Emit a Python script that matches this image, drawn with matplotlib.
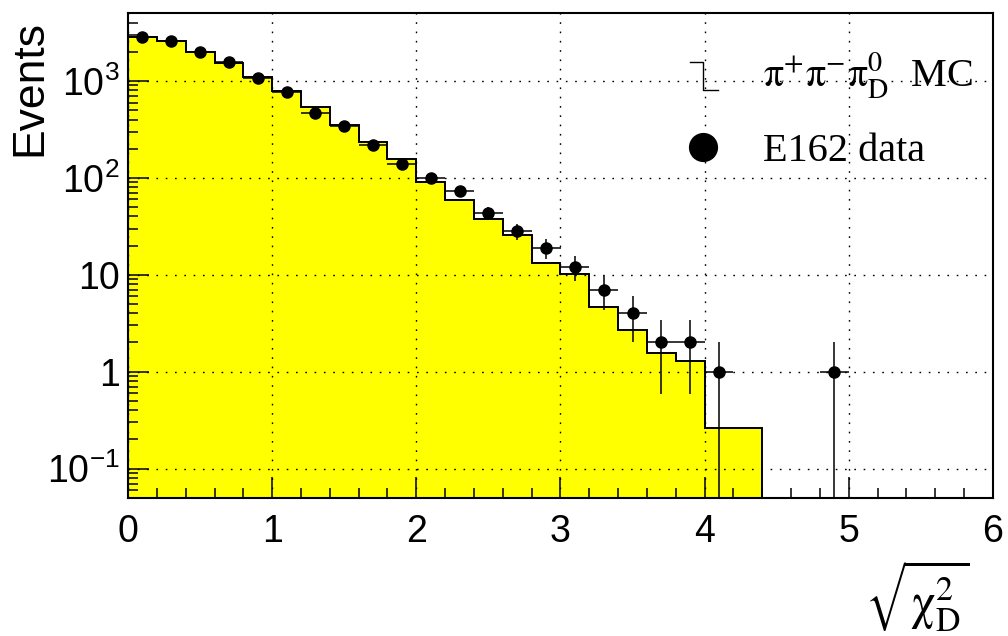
import numpy as np
import matplotlib
matplotlib.use('Agg')
import matplotlib.pyplot as plt
from matplotlib.lines import Line2D
from matplotlib.ticker import MultipleLocator, LogLocator, NullFormatter

plt.rcParams['font.family'] = ['Liberation Sans', 'DejaVu Sans']
plt.rcParams['mathtext.fontset'] = 'stix'

# MC histogram, 0.2 wide bins from 0 to 4.4
mc_edges = np.linspace(0, 4.4, 23)
mc_counts = [2860, 2600, 2005, 1545, 1092, 794, 543, 352, 237, 156, 90,
             59, 38, 25.8, 13.2, 10.2, 4.7, 2.67, 1.56, 1.30, 0.26, 0.26]

# E162 data, 0.2 wide bins from 0 to 5
data_edges = np.linspace(0, 5, 26)
data_counts = [2820, 2600, 2000, 1560, 1080, 775, 470, 345, 220, 140, 100,
               74, 43, 28, 19, 12, 7, 4, 2, 2, 1, 0, 0, 0, 1]

y_ticks = [0.1, 1, 10, 100, 1000]
y_labels = [r'$\mathregular{10^{-1}}$', '1', '10',
            r'$\mathregular{10^{2}}$', r'$\mathregular{10^{3}}$']

fig = plt.figure(figsize=(10.08, 6.36), dpi=100)
ax = fig.add_axes([128/1008, 1-497.7/636, (993-128)/1008, (497.7-13.3)/636])

ax.stairs(mc_counts, mc_edges, baseline=1e-4, fill=True, color='#ffff00', zorder=1)
ax.stairs(mc_counts, mc_edges, baseline=1e-4, color='black', linewidth=1.4, zorder=1.2)

centers = (data_edges[:-1] + data_edges[1:]) / 2
counts = np.array(data_counts, dtype=float)
keep = counts > 0
ax.errorbar(centers[keep], counts[keep], yerr=np.sqrt(counts[keep]), xerr=0.1,
            fmt='o', color='black', ms=8, elinewidth=1.1, capsize=0, zorder=3)

ax.set_yscale('log')
ax.set_xlim(0, 6)
ax.set_ylim(0.05, 5000)
ax.xaxis.set_major_locator(MultipleLocator(1))
ax.xaxis.set_minor_locator(MultipleLocator(0.2))
ax.set_yticks(y_ticks, labels=y_labels)
ax.yaxis.set_minor_locator(LogLocator(base=10, subs=np.arange(2, 10)))
ax.yaxis.set_minor_formatter(NullFormatter())

ax.tick_params(which='both', direction='in', top=False, right=False, width=1.1)
ax.tick_params(which='major', length=15, labelsize=27)
ax.tick_params(which='minor', length=7.5)
ax.tick_params(axis='x', pad=12)
ax.tick_params(axis='y', pad=6)
for s in ax.spines.values():
    s.set_linewidth(1.5)

ax.set_axisbelow(False)
ax.grid(True, which='major', color='black', linestyle=(0, (1.2, 5.5)), linewidth=1)

fig.text(30/1008, 1-20/636, 'Events', rotation=90, ha='center', va='top', fontsize=32)
fig.text(970/1008, 2/636, r'$\sqrt{\mathrm{\chi}^{2}_{\mathrm{D}}}$', ha='right', va='bottom', fontsize=35)

# legend
def fx(px):
    return px / 1008

def fy(py):
    return 1 - py / 636

fig.add_artist(Line2D([fx(690), fx(703), fx(703), fx(718)], [fy(62), fy(62), fy(90), fy(90)],
                      color='black', linewidth=1, transform=fig.transFigure))
fig.add_artist(Line2D([fx(703)], [fy(147)], marker='o', ms=20, color='black',
                      transform=fig.transFigure))
fig.text(fx(763), fy(88), r'$\mathrm{\pi^{+}\pi^{-}\pi^{0}_{D}}$  MC', family='Liberation Serif',
         fontsize=29, va='baseline')
fig.text(fx(763), fy(161), 'E162 data', family='Liberation Serif', fontsize=29, va='baseline')

fig.savefig('out.png', dpi=100)
